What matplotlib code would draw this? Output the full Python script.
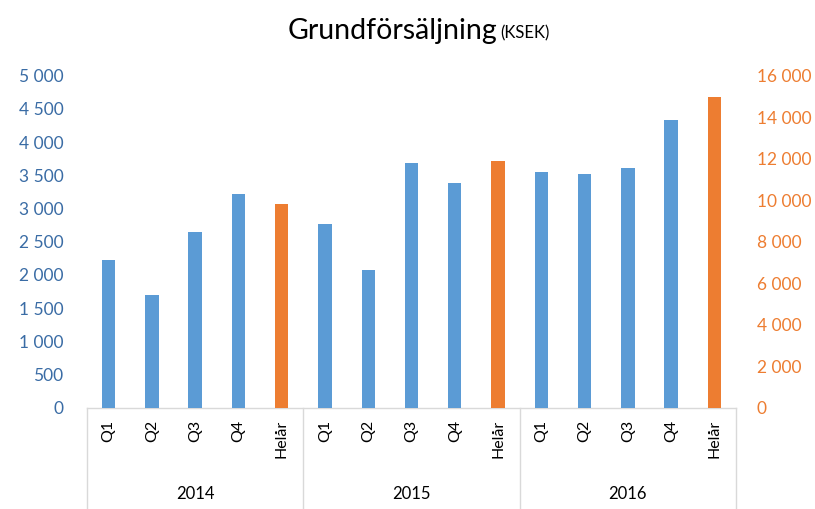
import matplotlib
matplotlib.use("Agg")
import matplotlib.pyplot as plt
from matplotlib.ticker import FuncFormatter, FixedLocator

plt.rcParams['font.family'] = ['Lato', 'DejaVu Sans']

years = ['2014', '2015', '2016']
quarters = ['Q1', 'Q2', 'Q3', 'Q4']
full_label = 'Helår'
quarter_sales = [
    [2224, 1693, 2641, 3214],
    [2762, 2074, 3681, 3380],
    [3545, 3515, 3614, 4333],
]
full_year_sales = [9800, 11890, 14990]

blue, orange = '#5B9BD5', '#ED7D31'
left_txt, grid_col = '#3A6CA5', '#D9D9D9'

fig = plt.figure(figsize=(8.15, 5.09), dpi=100)
ax = fig.add_axes([0.1067, 0.199, 0.7964, 0.6523])
ax2 = ax.twinx()

# positions: 5 slots per year
group = len(quarters) + 1
q_pos, q_val, f_pos = [], [], []
labels = []
for i, yr in enumerate(years):
    for j, q in enumerate(quarters):
        q_pos.append(i * group + j)
        q_val.append(quarter_sales[i][j])
    f_pos.append(i * group + len(quarters))
    labels += quarters + [full_label]

bw = 0.31
ax.bar(q_pos, q_val, width=bw, color=blue, zorder=3)
ax2.bar(f_pos, full_year_sales, width=bw, color=orange, zorder=3)

n = group * len(years)
ax.set_xlim(-0.5, n - 0.5)
ax.set_ylim(0, 5000)
ax2.set_ylim(0, 16000)
ax.yaxis.set_major_locator(FixedLocator(range(0, 5001, 500)))
ax2.yaxis.set_major_locator(FixedLocator(range(0, 16001, 2000)))
fmt = FuncFormatter(lambda v, p: f"{int(v):,}".replace(',', ' '))
ax.yaxis.set_major_formatter(fmt)
ax2.yaxis.set_major_formatter(fmt)

for a in (ax, ax2):
    for s in a.spines.values():
        s.set_visible(False)
ax.spines['bottom'].set_visible(True)
ax.spines['bottom'].set_color(grid_col)
ax.spines['bottom'].set_linewidth(1)

ax.tick_params(axis='y', length=0, pad=17, labelsize=12.5, labelcolor=left_txt)
ax2.tick_params(axis='y', length=0, pad=15, labelsize=12.5, labelcolor=orange)

ax.set_xticks(range(n))
ax.set_xticklabels(labels, rotation=90, va='top', ha='center', fontsize=11.5)
ax.tick_params(axis='x', length=0, pad=9)

# group separators and year labels
xt = ax.get_xaxis_transform()
for k in range(len(years) + 1):
    x = k * group - 0.5
    ax.plot([x, x], [0, -0.31], transform=xt, color=grid_col, lw=1, clip_on=False)
for i, yr in enumerate(years):
    ax.text(i * group + (group - 1) / 2, -0.26, yr, transform=xt,
            ha='center', va='center', fontsize=12)

fig.text(0.61, 0.94, 'Grundförsäljning', ha='right', va='center', fontsize=20.5)
fig.text(0.614, 0.935, '(KSEK)', ha='left', va='center', fontsize=12)

fig.savefig('out.png', dpi=100)
